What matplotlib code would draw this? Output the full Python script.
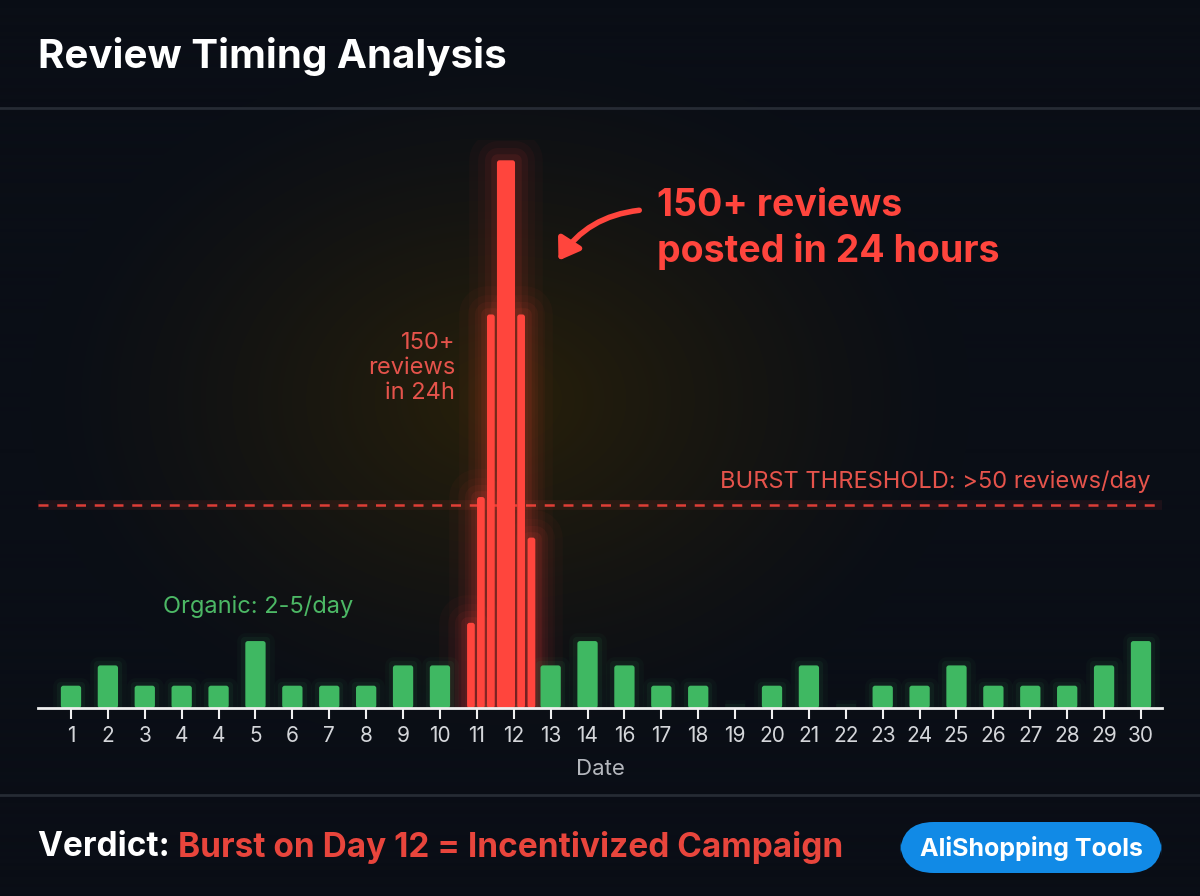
import numpy as np
import matplotlib.pyplot as plt
from matplotlib.patches import FancyBboxPatch, FancyArrowPatch

# day labels as printed under the axis (the source repeats "4" and skips "15")
day_labels = ['1', '2', '3', '4', '4', '5', '6', '7', '8', '9', '10', '11', '12', '13', '14',
              '16', '17', '18', '19', '20', '21', '22', '23', '24', '25', '26', '27', '28', '29', '30']
# organic reviews per day (0 = no bar)
organic = [5.5, 10.5, 5.5, 5.5, 5.5, 16.5, 5.5, 5.5, 5.5, 10.5, 10.5, 0, 0, 10.5, 16.5,
           10.5, 5.5, 5.5, 0, 5.5, 10.5, 0, 5.5, 5.5, 10.5, 5.5, 5.5, 5.5, 10.5, 16.5]
# burst bars around day 11-12 (hourly slices)
burst_pos = [10.84, 11.11, 11.38, 11.79, 12.20, 12.48]
burst_vals = [21, 52, 97, 135, 97, 42]
burst_width = [0.21, 0.21, 0.21, 0.49, 0.21, 0.21]
threshold = 50

BG = '#0a0e16'
GREEN = '#3fb862'
RED = '#ff453d'
plt.rcParams['font.family'] = ['Inter', 'DejaVu Sans']

fig = plt.figure(figsize=(12, 8.96), dpi=100)
fig.patch.set_facecolor(BG)

# background with a warm glow behind the burst
bg = fig.add_axes([0, 0, 1, 1])
bg.set_axis_off()
yy, xx = np.mgrid[0:896, 0:1200]
d = np.sqrt(((xx - 500) / 470.0) ** 2 + ((yy - 400) / 350.0) ** 2)
glow = np.clip(1 - d, 0, 1) ** 1.3
base = np.array([10, 14, 22]) / 255.0
warm = np.array([40, 32, 10]) / 255.0
img = base + glow[..., None] * (warm - base)
bg.imshow(np.clip(img, 0, 1), extent=[0, 1, 0, 1], aspect='auto', zorder=0)
bg.set_xlim(0, 1)
bg.set_ylim(0, 1)

# separators
bg.axhline(1 - 108 / 896, color='#262b34', lw=2)
bg.axhline(1 - 795 / 896, color='#262b34', lw=2)

ax = fig.add_axes([38 / 1200, 1 - 708 / 896, 1124 / 1200, 568 / 896])
ax.set_facecolor('none')
x = np.arange(len(day_labels))

# soft glow layers under the bars
for lw, a in [(40, 0.03), (28, 0.04), (18, 0.06), (9, 0.09)]:
    ax.bar(burst_pos, burst_vals, width=burst_width, color='none', edgecolor=RED,
           linewidth=lw, alpha=a, joinstyle='round', zorder=2)
for lw, a in [(12, 0.04), (6, 0.07)]:
    ax.bar(x, organic, width=0.55, color='none', edgecolor=GREEN, linewidth=lw,
           alpha=a, joinstyle='round', zorder=2)

green_bars = ax.bar(x, organic, width=0.55, color=GREEN, edgecolor='none', zorder=3)
red_bars = ax.bar(burst_pos, burst_vals, width=burst_width, color=RED, edgecolor='none', zorder=4)

# swap the plain rectangles for slightly rounded ones
asp = (1124 / 30.46) / (568 / 140)
for bars in (green_bars, red_bars):
    for r in bars:
        r.set_visible(False)
        if r.get_height() <= 0:
            continue
        rb = FancyBboxPatch(r.get_xy(), r.get_width(), r.get_height(),
                            boxstyle='round,pad=0,rounding_size=0.07', mutation_aspect=asp,
                            facecolor=r.get_facecolor(), edgecolor='none', zorder=r.get_zorder())
        ax.add_patch(rb)

ax.axhline(threshold, color=RED, lw=1.8, ls=(0, (4, 3.5)), alpha=0.85, zorder=2)
ax.axhline(threshold, color=RED, lw=7, alpha=0.08, zorder=1)

ax.set_xlim(-0.894, 29.57)
ax.set_ylim(0, 140)
ax.set_xticks(x)
ax.set_xticklabels(day_labels)
ax.set_yticks([])
for s in ['top', 'left', 'right']:
    ax.spines[s].set_visible(False)
ax.spines['bottom'].set_color('#f0f0f0')
ax.spines['bottom'].set_linewidth(2)
ax.spines['bottom'].set_zorder(5)
ax.tick_params(axis='x', colors='#f0f0f0', length=8, width=1.5, labelsize=15,
               labelcolor='#d4d6da', pad=5)
ax.set_xlabel('Date', color='#b4b7bd', fontsize=16, labelpad=9)

# annotations
fig.text(1150 / 1200, 1 - 482 / 896, 'BURST THRESHOLD: >50 reviews/day', color='#e5534b',
         fontsize=17, ha='right', va='center')
fig.text(163 / 1200, 1 - 607 / 896, 'Organic: 2-5/day', color='#4cb865', fontsize=17,
         ha='left', va='center')
fig.text(455 / 1200, 1 - 368 / 896, '150+\nreviews\nin 24h', color='#e5534b', fontsize=17,
         ha='right', va='center', linespacing=1.2)
fig.text(657 / 1200, 1 - 229 / 896, '150+ reviews\nposted in 24 hours', color=RED,
         fontsize=27, fontweight='bold', ha='left', va='center', linespacing=1.3)
fig.add_artist(FancyArrowPatch(
    (642 / 1200, 1 - 210 / 896), (557 / 1200, 1 - 263 / 896), transform=fig.transFigure,
    connectionstyle='arc3,rad=0.25', arrowstyle='-|>,head_length=12,head_width=8',
    color=RED, lw=4))

# title
fig.text(38 / 1200, 1 - 56 / 896, 'Review Timing Analysis', color='white', fontsize=29,
         fontweight='bold', ha='left', va='center')

# verdict footer
t1 = fig.text(38 / 1200, 1 - 847 / 896, 'Verdict: ', color='white', fontsize=24,
              fontweight='bold', ha='left', va='center')
fig.canvas.draw()
bb = t1.get_window_extent()
fig.text(bb.x1 / 1200, 1 - 847 / 896, 'Burst on Day 12 = Incentivized Campaign', color='#e8453c',
         fontsize=24, fontweight='bold', ha='left', va='center')

# pill button
pill = FancyBboxPatch((900 / 1200, 1 - 873 / 896), 262 / 1200, 51 / 896,
                      boxstyle='round,pad=0,rounding_size=0.028', mutation_aspect=1200 / 896,
                      transform=fig.transFigure, facecolor='#118ae6', edgecolor='none')
fig.add_artist(pill)
fig.text(1031 / 1200, 1 - 848 / 896, 'AliShopping Tools', color='white', fontsize=18,
         fontweight='bold', ha='center', va='center')

fig.savefig('out.png', dpi=100, facecolor=BG)
